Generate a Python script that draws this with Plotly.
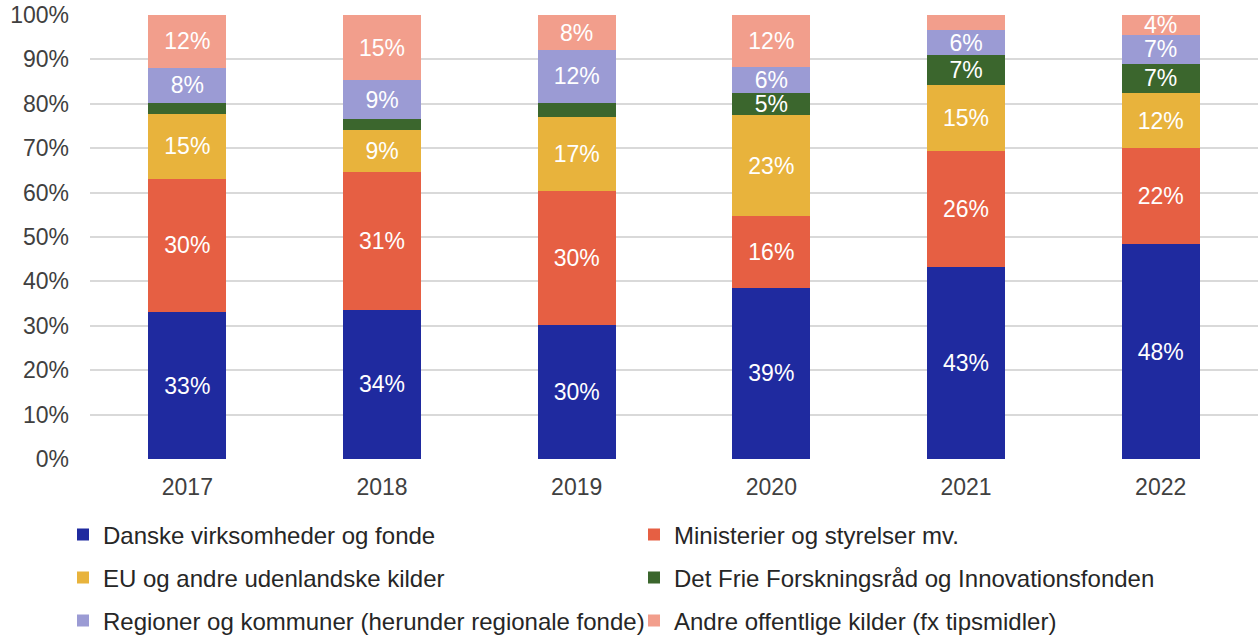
import plotly.graph_objects as go

years = ["2017", "2018", "2019", "2020", "2021", "2022"]
series_names = [
    "Danske virksomheder og fonde",
    "Ministerier og styrelser mv.",
    "EU og andre udenlandske kilder",
    "Det Frie Forskningsråd og Innovationsfonden",
    "Regioner og kommuner (herunder regionale fonde)",
    "Andre offentlige kilder (fx tipsmidler)",
]
danske = [33.1, 33.6, 30.2, 38.6, 43.2, 48.4]
ministerier = [30.0, 31.0, 30.2, 16.2, 26.2, 21.6]
eu = [14.6, 9.4, 16.6, 22.6, 14.8, 12.4]
dff = [2.5, 2.5, 3.2, 5.1, 6.8, 6.6]
regioner = [7.9, 8.8, 11.9, 5.8, 5.6, 6.6]
andre = [11.9, 14.7, 7.9, 11.7, 3.4, 4.4]
colors = ["#1F2A9F", "#E65F43", "#E8B33C", "#3B662D", "#9B9BD4", "#F29E8C"]
legend_rows = ["legend", "legend", "legend2", "legend2", "legend3", "legend3"]

all_series = [danske, ministerier, eu, dff, regioner, andre]
FONT = "Liberation Sans, Arial"

fig = go.Figure()
for name, vals, col, lg in zip(series_names, all_series, colors, legend_rows):
    labels = [f"{int(v + 0.5)}%" if v >= 4 else "" for v in vals]
    fig.add_trace(go.Bar(
        x=years, y=vals, name=name, marker_color=col, marker_line_width=0,
        text=labels, textposition="inside", insidetextanchor="middle",
        textangle=0, constraintext="none", legend=lg,
        textfont=dict(color="white", size=23, family=FONT),
        hoverinfo="skip",
    ))

W, H = 1258, 636
L, T, B = 90, 15, 177
plot_w = W - L
plot_h = H - T - B


def legend_cfg(row_center_y):
    return dict(
        orientation="h", xanchor="left", yanchor="middle",
        x=(63 - L) / plot_w,
        y=(H - B - row_center_y) / plot_h,
        entrywidth=526, traceorder="normal", itemsizing="constant",
        font=dict(size=24, color="#262626", family=FONT),
        bgcolor="rgba(0,0,0,0)",
    )


fig.update_layout(
    barmode="stack",
    bargap=0.6,
    width=W, height=H,
    margin=dict(l=L, r=0, t=T, b=B, autoexpand=False),
    plot_bgcolor="white", paper_bgcolor="white",
    font=dict(family=FONT, size=23, color="#404040"),
    yaxis=dict(range=[0, 100], dtick=10, ticksuffix="%", gridcolor="#D9D9D9",
               gridwidth=2, zeroline=False, showline=False, ticks="",
               ticklabelstandoff=20, ticklabeloverflow="allow", fixedrange=True),
    xaxis=dict(showline=False, ticks="", ticklabelstandoff=12,
               ticklabeloverflow="allow", fixedrange=True),
    legend=legend_cfg(535),
    legend2=legend_cfg(578),
    legend3=legend_cfg(621),
    showlegend=True,
)

fig.write_html("out.html", config={"displayModeBar": False},
               post_script="document.body.style.margin='0';")
